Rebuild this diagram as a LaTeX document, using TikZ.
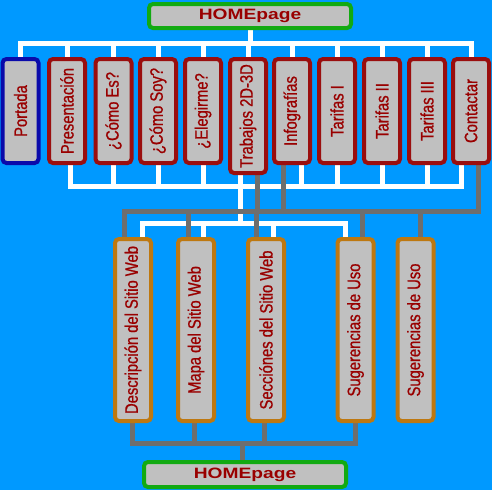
\documentclass[tikz,border=0pt]{standalone}
\usepackage{fontspec}
\newfontfamily\menufont[FakeStretch=0.82, FakeBold=0.9]{Liberation Sans}
\newfontfamily\homefont[FakeStretch=1.28]{Liberation Sans}
\definecolor{sky}{HTML}{0099FF}
\definecolor{boxgray}{HTML}{C0C0C0}
\definecolor{txtred}{HTML}{990000}
\definecolor{menured}{HTML}{9A0E0E}
\definecolor{portblue}{HTML}{0A0AAA}
\definecolor{pageorange}{HTML}{BE7810}
\definecolor{homegreen}{HTML}{12AA12}
\definecolor{wiregray}{HTML}{6E6E6E}
\pgfdeclarelayer{back}
\pgfdeclarelayer{wires}
\pgfsetlayers{back,wires,main}

\begin{document}
\begin{tikzpicture}[x=1pt, y=-1pt]
    \tikzstyle{every node} = [align=center, inner sep=0pt, fill=boxgray, line width=4pt, rounded corners=4pt, text=txtred]
    \tikzstyle{menu} = [draw=menured, minimum width=36pt, minimum height=104pt, font=\menufont\fontsize{18}{20}\selectfont]
    \tikzstyle{pagebox} = [draw=pageorange, minimum width=36pt, minimum height=182pt, font=\menufont\fontsize{18}{20}\selectfont]
    \tikzstyle{home} = [draw=homegreen, minimum width=202pt, minimum height=24pt, font=\homefont\bfseries\fontsize{15}{16}\selectfont]
    \tikzstyle{wline} = [white, line width=5pt]
    \tikzstyle{gline} = [wiregray, line width=5pt]

    \begin{pgfonlayer}{back}
        \fill[sky] (0,0) rectangle (492,490);
    \end{pgfonlayer}
    \useasboundingbox (0,0) rectangle (492,490);

    \node[home](top) at (250,16){HOMEpage};
    \node[menu, draw=portblue](portada) at (20.5,111){\rotatebox{90}{Portada}};
    \node[menu](pres) at (67,111){\rotatebox{90}{Presentación}};
    \node[menu](comoes) at (113.5,111){\rotatebox{90}{¿Cómo Es?}};
    \node[menu](comosoy) at (158,111){\rotatebox{90}{¿Cómo Soy?}};
    \node[menu](elegir) at (203,111){\rotatebox{90}{¿Elegirme?}};
    \node[menu, minimum height=114pt](trabajos) at (248,116){\rotatebox{90}{Trabajos 2D-3D}};
    \node[menu](info) at (292,111){\rotatebox{90}{Infografías}};
    \node[menu](tarifa1) at (337,111){\rotatebox{90}{Tarifas I}};
    \node[menu](tarifa2) at (382,111){\rotatebox{90}{Tarifas II}};
    \node[menu](tarifa3) at (427,111){\rotatebox{90}{Tarifas III}};
    \node[menu](contacto) at (471,111){\rotatebox{90}{Contactar}};

    \node[pagebox](descrip) at (133,330){\rotatebox{90}{Descripción del Sitio Web}};
    \node[pagebox](mapa) at (196,330){\rotatebox{90}{Mapa del Sitio Web}};
    \node[pagebox](secciones) at (266,330){\rotatebox{90}{Secciónes del Sitio Web}};
    \node[pagebox](sugeren1) at (355.5,330){\rotatebox{90}{Sugerencias de Uso}};
    \node[pagebox](sugeren2) at (415.5,330){\rotatebox{90}{Sugerencias de Uso}};
    \node[home, minimum height=25pt](bottom) at (245,474.5){HOMEpage};

    \coordinate (topbus) at (0,43);
    \coordinate (midbus) at (0,186);
    \coordinate (graybus) at (0,211.5);
    \coordinate (lowbus) at (0,223);
    \coordinate (footbus) at (0,443);

    \begin{pgfonlayer}{wires}
        % white links
        \draw[wline] (top.south) -- (top.south |- topbus);
        \draw[wline] (portada.north) |- (contacto.north |- topbus) -- (contacto.north);
        \foreach \n in {pres,comoes,comosoy,elegir,trabajos,info,tarifa1,tarifa2,tarifa3}
            \draw[wline] (\n.north) -- (\n.north |- topbus);
        \draw[wline] ([xshift=3pt]pres.south) |- ([xshift=-10pt]contacto.south |- midbus) -- ([xshift=-10pt]contacto.south);
        \foreach \n in {comoes,comosoy,elegir,tarifa1,tarifa2,tarifa3}
            \draw[wline] (\n.south) -- (\n.south |- midbus);
        \draw[wline] ([xshift=9pt]info.south) -- ([xshift=9pt]info.south |- midbus);
        \draw[wline] ([xshift=-8pt]trabajos.south) -- ([xshift=-8pt]trabajos.south |- lowbus);
        \draw[wline] ([xshift=9pt]descrip.north) |- ([xshift=-10.5pt]sugeren1.north |- lowbus) -- ([xshift=-10.5pt]sugeren1.north);
        \draw[wline] ([xshift=7pt]mapa.north) -- ([xshift=7pt]mapa.north |- lowbus);
        \draw[wline] ([xshift=7pt]secciones.north) -- ([xshift=7pt]secciones.north |- lowbus);

        % gray links
        \draw[gline] ([xshift=-9pt]descrip.north) |- ([xshift=7pt]contacto.south |- graybus) -- ([xshift=7pt]contacto.south);
        \draw[gline] ([xshift=9pt]trabajos.south) -- ([xshift=9pt]trabajos.south |- graybus);
        \draw[gline] ([xshift=-9pt]info.south) -- ([xshift=-9pt]info.south |- graybus);
        \draw[gline] ([xshift=-8pt]mapa.north) -- ([xshift=-8pt]mapa.north |- graybus);
        \draw[gline] ([xshift=-10pt]secciones.north) -- ([xshift=-10pt]secciones.north |- graybus);
        \draw[gline] ([xshift=6.5pt]sugeren1.north) -- ([xshift=6.5pt]sugeren1.north |- graybus);
        \draw[gline] ([xshift=4.5pt]sugeren2.north) -- ([xshift=4.5pt]sugeren2.north |- graybus);
        \draw[gline] ([xshift=-1pt]descrip.south) |- (sugeren1.south |- footbus) -- (sugeren1.south);
        \draw[gline] ([xshift=-2pt]mapa.south) -- ([xshift=-2pt]mapa.south |- footbus);
        \draw[gline] ([xshift=-2pt]secciones.south) -- ([xshift=-2pt]secciones.south |- footbus);
        \draw[gline] ([xshift=-3pt]bottom.north) -- ([xshift=-3pt]bottom.north |- footbus);
    \end{pgfonlayer}
\end{tikzpicture}
\end{document}
